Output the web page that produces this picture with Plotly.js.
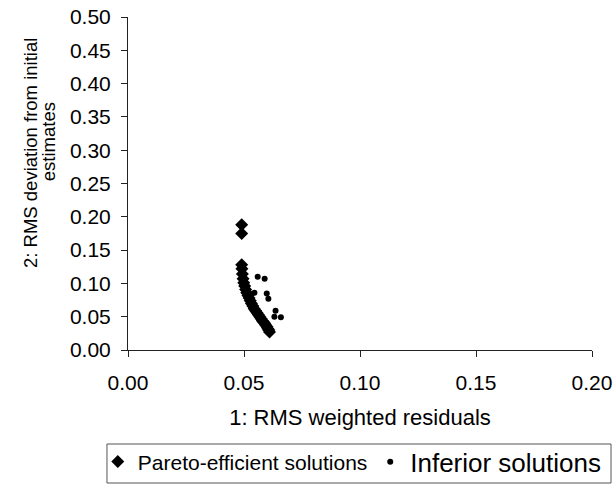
<!DOCTYPE html>
<html>
<head>
<meta charset="utf-8">
<script src="https://cdn.plot.ly/plotly-3.0.1.min.js"></script>
<style>html,body{margin:0;padding:0;background:#fff;}#chart{width:615px;height:484px;}</style>
</head>
<body>
<div id="chart"></div>
<script>
// Pareto-efficient solutions
const paretoX = [0.0490, 0.0490, 0.0490, 0.0491, 0.0493, 0.0496, 0.0499, 0.0503, 0.0507, 0.0512, 0.0517, 0.0522, 0.0527, 0.0532, 0.0538, 0.0544, 0.0550, 0.0556, 0.0562, 0.0568, 0.0574, 0.0579, 0.0584, 0.0589, 0.0594, 0.0599, 0.0603, 0.0607, 0.0610];
const paretoY = [0.188, 0.175, 0.128, 0.122, 0.114, 0.107, 0.101, 0.096, 0.091, 0.086, 0.082, 0.078, 0.074, 0.070, 0.066, 0.062, 0.059, 0.056, 0.053, 0.050, 0.047, 0.044, 0.042, 0.040, 0.037, 0.035, 0.032, 0.030, 0.027];
// Inferior solutions
const inferiorX = [0.0559, 0.0589, 0.0598, 0.0605, 0.0636, 0.0631, 0.0659, 0.0545];
const inferiorY = [0.110, 0.107, 0.085, 0.077, 0.059, 0.050, 0.049, 0.086];
// Tick labels
const xTicks = [0.00, 0.05, 0.10, 0.15, 0.20];
const yTicks = [0.00, 0.05, 0.10, 0.15, 0.20, 0.25, 0.30, 0.35, 0.40, 0.45, 0.50];
const yTitleLines = ['2: RMS deviation from initial', 'estimates'];

const FONT = 'Liberation Sans, Arial, sans-serif';
const traces = [
  {x: paretoX, y: paretoY, type: 'scatter', mode: 'markers', name: 'Pareto-efficient solutions',
   legend: 'legend', marker: {symbol: 'diamond', size: 10, color: '#000'}},
  {x: inferiorX, y: inferiorY, type: 'scatter', mode: 'markers', name: 'Inferior solutions',
   legend: 'legend2', marker: {symbol: 'circle', size: 6, color: '#000'}}
];
const layout = {
  width: 615, height: 484,
  margin: {l: 128, r: 23, t: 17, b: 134},
  paper_bgcolor: '#fff', plot_bgcolor: '#fff',
  font: {family: FONT, size: 21, color: '#000'},
  showlegend: true,
  xaxis: {range: [0, 0.2], tickvals: xTicks, ticktext: xTicks.map(v => v.toFixed(2)),
    showgrid: false, zeroline: false, showline: true, linecolor: '#222', linewidth: 1,
    ticks: 'outside', ticklen: 6, tickcolor: '#222', ticklabelstandoff: 8, automargin: false,
    tickfont: {size: 21},
    title: {text: '1: RMS weighted residuals', font: {size: 22}, standoff: 16}},
  yaxis: {range: [0, 0.5], tickvals: yTicks, ticktext: yTicks.map(v => v.toFixed(2)),
    showgrid: false, zeroline: false, showline: true, linecolor: '#222', linewidth: 1,
    ticks: 'outside', ticklen: 6, tickcolor: '#222', ticklabelstandoff: 6, automargin: false,
    tickfont: {size: 21}},
  annotations: [
    {text: yTitleLines[0], xref: 'paper', yref: 'paper', x: -0.209, y: 0.5916,
     xanchor: 'center', yanchor: 'middle', textangle: -90, showarrow: false, font: {size: 18.5}},
    {text: yTitleLines[1], xref: 'paper', yref: 'paper', x: -0.172, y: 0.6246,
     xanchor: 'center', yanchor: 'middle', textangle: -90, showarrow: false, font: {size: 18.5}}
  ],
  shapes: [{type: 'rect', xref: 'paper', yref: 'paper', x0: -0.0453, x1: 1.041, y0: -0.2823, y1: -0.3994,
    line: {color: '#555', width: 1}}],
  legend: {orientation: 'h', xref: 'container', yref: 'container', x: 0.159, xanchor: 'left', y: 0.046, yanchor: 'middle',
    bgcolor: 'rgba(0,0,0,0)', borderwidth: 0, font: {size: 21}, itemsizing: 'trace'},
  legend2: {orientation: 'h', xref: 'container', yref: 'container', x: 0.602, xanchor: 'left', y: 0.046, yanchor: 'middle',
    bgcolor: 'rgba(0,0,0,0)', borderwidth: 0, font: {size: 26}, itemsizing: 'trace'}
};
Plotly.newPlot('chart', traces, layout, {displayModeBar: false, staticPlot: true});
</script>
</body>
</html>
